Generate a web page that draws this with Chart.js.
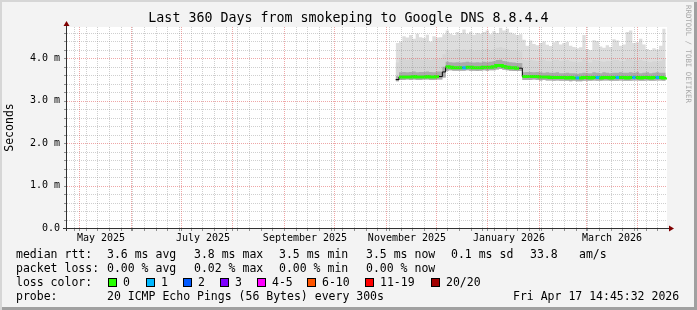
<!DOCTYPE html>
<html>
<head>
<meta charset="utf-8">
<script src="https://cdn.jsdelivr.net/npm/chart.js@4.4.1/dist/chart.umd.min.js"></script>
<style>
  body { margin: 0; background: #fff; }
  #frame {
    position: relative; width: 697px; height: 310px; background: #f3f3f3;
    box-shadow: inset 2px 2px 0 #d6d6d6, inset -3px -3px 0 #a0a0a0;
    font-family: 'DejaVu Sans Mono', monospace; color: #000; overflow: hidden;
  }
  #chart { position: absolute; left: 0; top: 0; }
  .t { position: absolute; white-space: pre; font-size: 11.5px; line-height: 14px; }
  #title { position: absolute; left: 0; top: 10px; width: 697px; text-align: center; font-size: 13.3px; line-height: 16px; white-space: pre; }
  #mark { position: absolute; left: 684px; top: 5px; writing-mode: vertical-rl; font-size: 7.4px; color: #a8a8a8; white-space: pre; }
  .box { position: absolute; width: 7px; height: 7px; border: 1px solid #000; }
</style>
</head>
<body>
<div id="frame">
  <canvas id="chart" width="697" height="310"></canvas>
  <div id="title">Last 360 Days from smokeping to Google DNS 8.8.4.4</div>
  <div id="mark">RRDTOOL / TOBI OETIKER</div>

  <div class="t" style="left:16px;top:247px">median rtt:</div>
  <div class="t" style="left:107px;top:247px">3.6 ms avg</div>
  <div class="t" style="left:194px;top:247px">3.8 ms max</div>
  <div class="t" style="left:279px;top:247px">3.5 ms min</div>
  <div class="t" style="left:366px;top:247px">3.5 ms now</div>
  <div class="t" style="left:451px;top:247px">0.1 ms sd</div>
  <div class="t" style="left:530px;top:247px">33.8</div>
  <div class="t" style="left:579px;top:247px">am/s</div>

  <div class="t" style="left:16px;top:261px">packet loss:</div>
  <div class="t" style="left:107px;top:261px">0.00 % avg</div>
  <div class="t" style="left:194px;top:261px">0.02 % max</div>
  <div class="t" style="left:279px;top:261px">0.00 % min</div>
  <div class="t" style="left:366px;top:261px">0.00 % now</div>

  <div class="t" style="left:16px;top:275px">loss color:</div>
  <div id="lossLegend"></div>

  <div class="t" style="left:16px;top:289px">probe:</div>
  <div class="t" style="left:107px;top:289px">20 ICMP Echo Pings (56 Bytes) every 300s</div>
  <div class="t" style="left:513px;top:289px">Fri Apr 17 14:45:32 2026</div>
</div>
<script>
// x = days since Mon 2025-04-28 00:00
const xMin = -4.2;
const xMax = 355.8;

const days = [
  193,195,197,199,201,203,205,207,209,211,
  213,215,217,219,221,223,225,227,229,231,
  233,235,237,239,241,243,245,247,249,251,
  253,255,257,259,261,263,265,267,269,271,
  273,275,277,279,281,283,285,287,289,291,
  293,295,297,299,301,303,305,307,309,311,
  313,315,317,319,321,323,325,327,329,331,
  333,335,337,339,341,343,345,347,349,351,
  353,355
];

// values in ms
const medianMs = [
  3.50,3.56,3.56,3.56,3.56,3.57,3.56,3.56,3.56,3.57,
  3.56,3.56,3.57,3.57,3.68,3.80,3.79,3.78,3.78,3.78,
  3.78,3.79,3.79,3.78,3.78,3.78,3.79,3.79,3.79,3.80,
  3.83,3.83,3.81,3.79,3.78,3.78,3.77,3.77,3.57,3.57,
  3.57,3.57,3.57,3.56,3.56,3.56,3.55,3.55,3.55,3.55,
  3.55,3.54,3.55,3.54,3.54,3.54,3.55,3.55,3.54,3.55,
  3.55,3.54,3.55,3.55,3.54,3.55,3.55,3.55,3.55,3.54,
  3.55,3.55,3.55,3.54,3.55,3.55,3.54,3.55,3.55,3.55,
  3.54,3.55
];

const minMs = [
  3.46,3.49,3.49,3.50,3.49,3.50,3.49,3.49,3.50,3.50,
  3.49,3.49,3.50,3.50,3.55,3.71,3.72,3.71,3.71,3.71,
  3.71,3.72,3.71,3.71,3.70,3.71,3.72,3.71,3.72,3.72,
  3.74,3.75,3.73,3.72,3.71,3.70,3.70,3.70,3.49,3.49,
  3.49,3.50,3.49,3.48,3.49,3.48,3.48,3.47,3.48,3.47,
  3.47,3.47,3.46,3.47,3.46,3.46,3.47,3.47,3.47,3.48,
  3.47,3.47,3.48,3.48,3.47,3.47,3.47,3.48,3.47,3.47,
  3.47,3.48,3.48,3.47,3.47,3.48,3.47,3.47,3.48,3.48,
  3.47,3.47
];

const innerHiMs = [
  3.58,3.67,3.68,3.67,3.68,3.69,3.67,3.68,3.68,3.69,
  3.68,3.67,3.69,3.69,3.80,3.92,3.91,3.90,3.91,3.90,
  3.91,3.92,3.91,3.90,3.91,3.90,3.92,3.91,3.92,3.93,
  3.96,3.97,3.94,3.92,3.91,3.90,3.89,3.89,3.67,3.68,
  3.68,3.67,3.68,3.67,3.66,3.67,3.66,3.66,3.67,3.65,
  3.65,3.66,3.65,3.65,3.64,3.65,3.66,3.65,3.65,3.67,
  3.66,3.65,3.67,3.66,3.65,3.66,3.66,3.67,3.66,3.66,
  3.67,3.66,3.67,3.65,3.66,3.67,3.65,3.66,3.67,3.66,
  3.66,3.65
];

const midHiMs = [
  3.90,3.98,4.00,3.97,4.01,3.99,4.02,3.98,3.97,4.00,
  3.96,3.99,3.98,4.00,4.10,4.20,4.18,4.19,4.22,4.20,
  4.21,4.19,4.22,4.18,4.20,4.19,4.21,4.23,4.20,4.22,
  4.25,4.27,4.24,4.22,4.20,4.19,4.18,4.17,3.96,3.95,
  3.97,3.95,3.94,3.96,3.97,3.94,3.93,3.96,3.97,3.94,
  3.95,3.96,3.93,3.92,3.91,3.92,3.98,3.91,3.90,3.96,
  3.95,3.93,3.92,3.94,3.93,3.97,3.96,3.93,3.94,3.99,
  4.00,3.95,3.96,3.97,3.94,3.92,3.91,3.93,3.92,3.94,
  3.98,3.91
];

const maxMs = [
  4.36,4.40,4.52,4.49,4.55,4.46,4.58,4.50,4.48,4.56,
  4.40,4.52,4.49,4.50,4.57,4.66,4.58,4.55,4.62,4.60,
  4.68,4.58,4.63,4.56,4.60,4.58,4.62,4.66,4.57,4.64,
  4.60,4.72,4.66,4.70,4.61,4.58,4.55,4.57,4.44,4.30,
  4.42,4.34,4.31,4.36,4.40,4.32,4.29,4.38,4.41,4.33,
  4.36,4.39,4.30,4.27,4.24,4.26,4.55,4.22,4.20,4.43,
  4.41,4.28,4.25,4.31,4.27,4.45,4.42,4.30,4.33,4.62,
  4.66,4.36,4.38,4.46,4.33,4.22,4.20,4.24,4.21,4.30,
  4.70,4.20
];

// lost pings (of 20) per sample
const lossPings = [
  0,0,0,0,0,0,0,0,0,0,
  0,0,0,0,0,0,0,0,0,0,
  1,0,0,0,0,0,0,0,0,0,
  0,0,0,0,0,0,0,0,0,0,
  0,0,0,0,0,0,0,0,0,0,
  0,0,0,0,1,0,0,0,0,0,
  1,0,0,0,0,0,1,0,0,0,
  0,1,0,0,0,0,0,0,1,0,
  0,0
];

const monthStarts = [3, 34, 64, 95, 126, 156, 187, 217, 248, 279, 307, 338];
const monthLabelDays = [16.2, 77.4, 138.6, 199.8, 261, 322.8];
const monthLabels = ['May 2025', 'July 2025', 'September 2025', 'November 2025', 'January 2026', 'March 2026'];
const yMinorStep = 0.2;
const yMajorStep = 1;

const lossLabels = ['0', '1', '2', '3', '4-5', '6-10', '11-19', '20/20'];
const lossColors = ['#26ff00', '#00b8ff', '#0059ff', '#7e00ff', '#ff00ff', '#ff5500', '#ff0000', '#a10000'];
const lossBoxX = [108, 146, 183, 220, 257, 307, 365, 431];

const MINOR = 'rgba(140,140,140,0.42)';
const MAJOR = 'rgba(224,80,80,0.5)';
const MONO = 'DejaVu Sans Mono';

// loss colour legend
const lossLegend = document.getElementById('lossLegend');
lossLabels.forEach((lab, i) => {
  const b = document.createElement('div');
  b.className = 'box';
  b.style.left = lossBoxX[i] + 'px';
  b.style.top = '278px';
  b.style.background = lossColors[i];
  lossLegend.appendChild(b);
  const t = document.createElement('div');
  t.className = 't';
  t.style.left = (lossBoxX[i] + 15) + 'px';
  t.style.top = '275px';
  t.textContent = lab;
  lossLegend.appendChild(t);
});

function pts(arr) {
  return days.map((d, i) => ({ x: d, y: arr[i] }));
}

function lossColor(n) {
  if (n <= 0) return lossColors[0];
  if (n <= 3) return lossColors[n];
  if (n <= 5) return lossColors[4];
  if (n <= 10) return lossColors[5];
  if (n <= 19) return lossColors[6];
  return lossColors[7];
}

const base = { pointRadius: 0, borderWidth: 0, tension: 0, stepped: true };

// rrdtool style canvas, dotted grid, axes with arrows
const rrdFrame = {
  id: 'rrdFrame',
  beforeDraw(chart) {
    const a = chart.chartArea, ctx = chart.ctx;
    ctx.save();
    ctx.fillStyle = '#ffffff';
    ctx.fillRect(a.left, a.top, a.right - a.left, a.bottom - a.top);
    ctx.restore();
  },
  afterDatasetsDraw(chart) {
    const { ctx, chartArea: a, scales: { x, y } } = chart;
    ctx.save();
    ctx.lineWidth = 1;
    ctx.setLineDash([1, 1]);
    const vline = (v, color) => {
      const px = Math.round(x.getPixelForValue(v)) + 0.5;
      ctx.strokeStyle = color;
      ctx.beginPath(); ctx.moveTo(px, a.top); ctx.lineTo(px, a.bottom); ctx.stroke();
    };
    const hline = (v, color) => {
      const py = Math.round(y.getPixelForValue(v)) + 0.5;
      ctx.strokeStyle = color;
      ctx.beginPath(); ctx.moveTo(a.left, py); ctx.lineTo(a.right, py); ctx.stroke();
    };
    for (let d = 0; d <= xMax; d += 7) if (!monthStarts.includes(d)) vline(d, MINOR);
    for (let i = 1; i * yMinorStep < y.max; i++) if (i % 5) hline(i * yMinorStep, MINOR);
    monthStarts.forEach(d => vline(d, MAJOR));
    for (let v = yMajorStep; v < y.max; v += yMajorStep) hline(v, MAJOR);
    ctx.restore();
  },
  afterDraw(chart) {
    const { ctx, chartArea: a, scales: { x, y } } = chart;
    const x0 = a.left - 0.5, y0 = a.bottom + 0.5;
    ctx.save();
    ctx.lineWidth = 1;
    // tick marks
    ctx.strokeStyle = '#909090';
    ctx.beginPath();
    for (let d = 0; d <= xMax; d += 7) {
      const px = Math.round(x.getPixelForValue(d)) + 0.5;
      ctx.moveTo(px, a.bottom); ctx.lineTo(px, a.bottom + 3);
    }
    monthStarts.forEach(d => {
      const px = Math.round(x.getPixelForValue(d)) + 0.5;
      ctx.moveTo(px, a.bottom); ctx.lineTo(px, a.bottom + 3);
    });
    for (let i = 0; i * yMinorStep < y.max; i++) {
      const py = Math.round(y.getPixelForValue(i * yMinorStep)) + 0.5;
      ctx.moveTo(a.left - 3, py); ctx.lineTo(a.left, py);
    }
    ctx.stroke();
    // axes
    ctx.strokeStyle = '#303030';
    ctx.beginPath();
    ctx.moveTo(x0, a.top - 1);
    ctx.lineTo(x0, a.bottom + 3);
    ctx.moveTo(a.left - 4, y0);
    ctx.lineTo(a.right + 2, y0);
    ctx.stroke();
    ctx.fillStyle = '#7f0000';
    ctx.beginPath();
    ctx.moveTo(x0, a.top - 6);
    ctx.lineTo(x0 - 3, a.top - 1);
    ctx.lineTo(x0 + 3, a.top - 1);
    ctx.closePath();
    ctx.fill();
    ctx.beginPath();
    ctx.moveTo(a.right + 7, y0);
    ctx.lineTo(a.right + 2, y0 - 3);
    ctx.lineTo(a.right + 2, y0 + 3);
    ctx.closePath();
    ctx.fill();
    ctx.restore();
  }
};

new Chart(document.getElementById('chart'), {
  type: 'line',
  data: {
    datasets: [
      { ...base, label: 'min', data: pts(minMs), fill: false, order: 6 },
      { ...base, label: 'max', data: pts(maxMs), fill: 0, backgroundColor: '#dddddd', order: 5 },
      { ...base, label: 'mid', data: pts(midHiMs), fill: 0, backgroundColor: '#d5d5d5', order: 4 },
      { ...base, label: 'inner', data: pts(innerHiMs), fill: 0, backgroundColor: '#ababab', order: 3 },
      { ...base, label: 'median line', data: pts(medianMs), fill: false, borderWidth: 1, borderColor: '#000000', order: 2 },
      {
        ...base, label: 'median', data: pts(medianMs), fill: false, borderWidth: 3, order: 1,
        borderColor: lossColors[0],
        segment: {
          borderColor: c => Math.abs(c.p1.parsed.y - c.p0.parsed.y) > 0.06 ? 'transparent' : lossColor(lossPings[c.p0DataIndex])
        }
      }
    ]
  },
  options: {
    responsive: false,
    animation: false,
    layout: { padding: { top: 27, right: 30, left: 0, bottom: 0 } },
    plugins: { legend: { display: false }, tooltip: { enabled: false } },
    scales: {
      x: {
        type: 'linear', min: xMin, max: xMax, position: 'bottom',
        afterBuildTicks: s => { s.ticks = monthLabelDays.map(v => ({ value: v })); },
        ticks: {
          autoSkip: false, maxRotation: 0, minRotation: 0, padding: 4, color: '#000',
          font: { family: MONO, size: 10 },
          callback: v => { const k = monthLabelDays.indexOf(v); return k < 0 ? '' : monthLabels[k]; }
        },
        grid: { display: false, drawTicks: false },
        border: { display: false },
        afterFit: s => { s.height = 82; }
      },
      y: {
        min: 0, max: 4.74,
        ticks: {
          stepSize: yMajorStep, includeBounds: false, autoSkip: false, padding: 7, color: '#000',
          font: { family: MONO, size: 10 },
          callback: v => v === 0 ? '0.0' : v.toFixed(1) + ' m'
        },
        grid: { display: false, drawTicks: false },
        border: { display: false },
        title: { display: true, text: 'Seconds', color: '#000', font: { family: MONO, size: 11.5 }, padding: { top: 3, bottom: 0 } },
        afterFit: s => { s.width = 67; }
      }
    }
  },
  plugins: [rrdFrame]
});
</script>
</body>
</html>
